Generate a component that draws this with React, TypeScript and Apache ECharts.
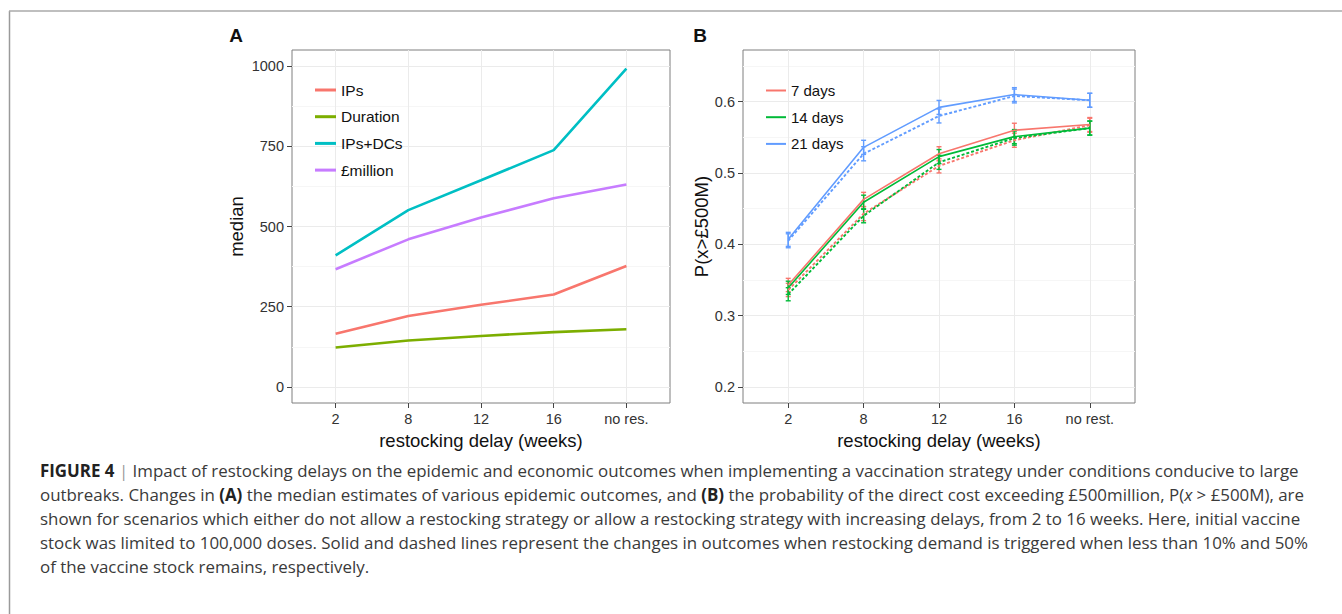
import React, { useEffect, useRef } from "react";
import * as echarts from "echarts";

// ---------- data ----------
const categoriesA = ["2", "8", "12", "16", "no res."];
const categoriesB = ["2", "8", "12", "16", "no rest."];
const legendA = ["IPs", "Duration", "IPs+DCs", "£million"];
const legendB = ["7 days", "14 days", "21 days"];

const ipsValues = [166, 221, 256, 288, 377];
const durationValues = [123, 145, 159, 171, 180];
const ipsDcsValues = [410, 551, 644, 738, 992];
const millionValues = [367, 460, 528, 588, 631];

const yTicksA = [0, 250, 500, 750, 1000];
const yMinorA = [125, 375, 625, 875];
const yTicksB = [0.2, 0.3, 0.4, 0.5, 0.6];
const yMinorB = [0.25, 0.35, 0.45, 0.55, 0.65];
const xTickIdx = [0, 1, 2, 3, 4];

const days7Solid = [0.343, 0.463, 0.527, 0.56, 0.568];
const days7Dashed = [0.336, 0.443, 0.51, 0.546, 0.567];
const days14Solid = [0.339, 0.459, 0.523, 0.551, 0.563];
const days14Dashed = [0.33, 0.44, 0.515, 0.549, 0.563];
const days21Solid = [0.407, 0.536, 0.592, 0.61, 0.602];
const days21Dashed = [0.405, 0.527, 0.58, 0.608, 0.602];

const err7Solid = [0.0093, 0.0099, 0.0099, 0.0098, 0.0098];
const err7Dashed = [0.0093, 0.0098, 0.0099, 0.0099, 0.0098];
const err14Solid = [0.0093, 0.0099, 0.0099, 0.0099, 0.0098];
const err14Dashed = [0.0092, 0.0098, 0.0099, 0.0099, 0.0098];
const err21Solid = [0.0098, 0.0099, 0.0098, 0.0097, 0.0098];
const err21Dashed = [0.0098, 0.0099, 0.0098, 0.0097, 0.0098];

const captionLines = [
  "{b|FIGURE 4} {s||} Impact of restocking delays on the epidemic and economic outcomes when implementing a vaccination strategy under conditions conducive to large",
  "outbreaks. Changes in {b|(A)} the median estimates of various epidemic outcomes, and {b|(B)} the probability of the direct cost exceeding £500million, P({i|x} > £500M), are",
  "shown for scenarios which either do not allow a restocking strategy or allow a restocking strategy with increasing delays, from 2 to 16 weeks. Here, initial vaccine",
  "stock was limited to 100,000 doses. Solid and dashed lines represent the changes in outcomes when restocking demand is triggered when less than 10% and 50%",
  "of the vaccine stock remains, respectively.",
];

// ---------- style ----------
const FONT = "'Liberation Sans', Arial, sans-serif";
const CAPFONT = "'Open Sans', 'Liberation Sans', sans-serif";
const CAPSIZE = 16.9;
const colA = ["#F8766D", "#7CAE00", "#00BFC4", "#C77CFF"];
const colB = ["#F8766D", "#00BA38", "#619CFF"];
const MAJOR = "#EBEBEB";
const MINOR = "#F6F6F6";

const pairs = (vals: number[]) => vals.map((v, i) => [i, v]);
const errData = (vals: number[], err: number[]) =>
  vals.map((v, i) => [i, v - err[i], v + err[i]]);

function xAxisFor(grid: number, cats: string[]) {
  return {
    type: "value",
    gridIndex: grid,
    min: -0.6,
    max: 4.6,
    position: "bottom",
    axisLine: { show: false, onZero: false },
    axisTick: { show: true, customValues: xTickIdx, length: 5, lineStyle: { color: "#444", width: 1 } },
    axisLabel: {
      customValues: xTickIdx,
      formatter: (v: number) => cats[Math.round(v)],
      margin: 8,
      color: "#333",
      fontSize: 14.5,
      fontFamily: FONT,
    },
    splitLine: { show: true, lineStyle: { color: MAJOR, width: 1 } },
    name: "restocking delay (weeks)",
    nameLocation: "middle",
    nameGap: 27,
    nameTextStyle: { color: "#111", fontSize: 18.5, fontFamily: FONT },
  };
}

function yAxisMain(grid: number, min: number, max: number, ticks: number[], name: string, gap: number, fmt: (v: number) => string) {
  return {
    type: "value",
    gridIndex: grid,
    min,
    max,
    position: "left",
    axisLine: { show: false, onZero: false },
    axisTick: { show: true, customValues: ticks, length: 5, lineStyle: { color: "#444", width: 1 } },
    axisLabel: { customValues: ticks, formatter: fmt, margin: 8, color: "#333", fontSize: 14.5, fontFamily: FONT },
    splitLine: { show: true, lineStyle: { color: MAJOR, width: 1 } },
    name,
    nameLocation: "middle",
    nameGap: gap,
    nameTextStyle: { color: "#111", fontSize: 18.5, fontFamily: FONT },
  };
}

function yAxisMinor(grid: number, min: number, max: number, ticks: number[]) {
  return {
    type: "value",
    gridIndex: grid,
    min,
    max,
    position: "left",
    axisLine: { show: false, onZero: false },
    axisTick: { show: false, customValues: ticks },
    axisLabel: { show: false, customValues: ticks },
    splitLine: { show: true, lineStyle: { color: MINOR, width: 1 } },
  };
}

function errSeries(name: string, vals: number[], err: number[], color: string) {
  return {
    type: "custom",
    name,
    xAxisIndex: 1,
    yAxisIndex: 2,
    silent: true,
    encode: { x: 0, y: [1, 2] },
    data: errData(vals, err),
    renderItem: (params: any, api: any) => {
      const x = api.value(0);
      const lo = api.coord([x, api.value(1)]);
      const hi = api.coord([x, api.value(2)]);
      const cap = 2.5;
      const st = { stroke: color, lineWidth: 1.4 };
      return {
        type: "group",
        children: [
          { type: "line", shape: { x1: lo[0], y1: lo[1], x2: hi[0], y2: hi[1] }, style: st },
          { type: "line", shape: { x1: lo[0] - cap, y1: lo[1], x2: lo[0] + cap, y2: lo[1] }, style: st },
          { type: "line", shape: { x1: hi[0] - cap, y1: hi[1], x2: hi[0] + cap, y2: hi[1] }, style: st },
        ],
      };
    },
  };
}

function lineB(name: string, vals: number[], color: string, dashed: boolean) {
  return {
    type: "line",
    name,
    xAxisIndex: 1,
    yAxisIndex: 2,
    symbol: "none",
    data: pairs(vals),
    lineStyle: dashed
      ? { color, width: 1.9, type: [3, 2] }
      : { color, width: 1.6, type: "solid" },
    itemStyle: { color },
    z: dashed ? 3 : 4,
  };
}

export default function App() {
  const ref = useRef<HTMLDivElement>(null);

  useEffect(() => {
    document.body.style.margin = "0";
    if (!ref.current) return;
    const chart = echarts.init(ref.current, undefined, { renderer: "svg" });

    const seriesA = [ipsValues, durationValues, ipsDcsValues, millionValues].map((vals, k) => ({
      type: "line",
      name: legendA[k],
      xAxisIndex: 0,
      yAxisIndex: 0,
      symbol: "none",
      data: pairs(vals),
      lineStyle: { color: colA[k], width: 2.6 },
      itemStyle: { color: colA[k] },
    }));

    const seriesB = [
      lineB(legendB[0], days7Solid, colB[0], false),
      lineB(legendB[1], days14Solid, colB[1], false),
      lineB(legendB[2], days21Solid, colB[2], false),
      lineB(legendB[0], days7Dashed, colB[0], true),
      lineB(legendB[1], days14Dashed, colB[1], true),
      lineB(legendB[2], days21Dashed, colB[2], true),
      errSeries("7 days solid CI", days7Solid, err7Solid, colB[0]),
      errSeries("7 days dashed CI", days7Dashed, err7Dashed, colB[0]),
      errSeries("14 days solid CI", days14Solid, err14Solid, colB[1]),
      errSeries("14 days dashed CI", days14Dashed, err14Dashed, colB[1]),
      errSeries("21 days solid CI", days21Solid, err21Solid, colB[2]),
      errSeries("21 days dashed CI", days21Dashed, err21Dashed, colB[2]),
    ];

    const captionGraphics = captionLines.map((t, i) => ({
      type: "text",
      x: 40,
      y: 470 + i * 24,
      silent: true,
      style: {
        text: t,
        fill: "#3a3a3a",
        fontSize: CAPSIZE,
        fontFamily: CAPFONT,
        verticalAlign: "middle",
        align: "left",
        rich: {
          b: { fontWeight: "bold", fontSize: CAPSIZE, fontFamily: CAPFONT, fill: "#222", color: "#222" },
          s: { fontSize: CAPSIZE, fontFamily: CAPFONT, color: "#999", fill: "#999" },
          i: { fontStyle: "italic", fontSize: CAPSIZE, fontFamily: CAPFONT, color: "#3a3a3a", fill: "#3a3a3a" },
        },
      },
    }));

    const legendCommon = {
      orient: "vertical",
      icon: "rect",
      itemHeight: 3,
      padding: 0,
      selectedMode: false,
    };

    const option: any = {
      animation: false,
      backgroundColor: "#ffffff",
      grid: [
        { left: 292, top: 50, width: 378, height: 353, show: true, borderColor: "#7F7F7F", borderWidth: 1, backgroundColor: "#fff" },
        { left: 743, top: 50, width: 392, height: 353, show: true, borderColor: "#7F7F7F", borderWidth: 1, backgroundColor: "#fff" },
      ],
      xAxis: [xAxisFor(0, categoriesA), xAxisFor(1, categoriesB)],
      yAxis: [
        yAxisMain(0, -50, 1050, yTicksA, "median", 46, (v: number) => String(v)),
        yAxisMinor(0, -50, 1050, yMinorA),
        yAxisMain(1, 0.1775, 0.6725, yTicksB, "P(x>£500M)", 32, (v: number) => v.toFixed(1)),
        yAxisMinor(1, 0.1775, 0.6725, yMinorB),
      ],
      legend: [
        {
          ...legendCommon,
          data: legendA,
          left: 315,
          top: 82,
          itemWidth: 21,
          itemGap: 10.7,
          textStyle: { color: "#111", fontSize: 15.5, fontFamily: FONT, lineHeight: 15 },
        },
        {
          ...legendCommon,
          data: legendB,
          left: 766,
          top: 83,
          itemWidth: 20,
          itemHeight: 2,
          itemGap: 11.7,
          textStyle: { color: "#111", fontSize: 15, fontFamily: FONT, lineHeight: 15 },
        },
      ],
      graphic: [
        { type: "line", silent: true, shape: { x1: 9.5, y1: 11, x2: 9.5, y2: 614 }, style: { stroke: "#9A9A9A", lineWidth: 1.5 } },
        { type: "line", silent: true, shape: { x1: 9, y1: 11, x2: 1342, y2: 11 }, style: { stroke: "#AAAAAA", lineWidth: 1.5 } },
        { type: "text", silent: true, x: 236, y: 35, style: { text: "A", fontSize: 19, fontWeight: "bold", fontFamily: FONT, fill: "#111", align: "center", verticalAlign: "middle" } },
        { type: "text", silent: true, x: 700, y: 35, style: { text: "B", fontSize: 19, fontWeight: "bold", fontFamily: FONT, fill: "#111", align: "center", verticalAlign: "middle" } },
        ...captionGraphics,
      ],
      series: [...seriesA, ...seriesB],
    };

    chart.setOption(option);
    return () => chart.dispose();
  }, []);

  return <div ref={ref} style={{ width: 1342, height: 614 }} />;
}
